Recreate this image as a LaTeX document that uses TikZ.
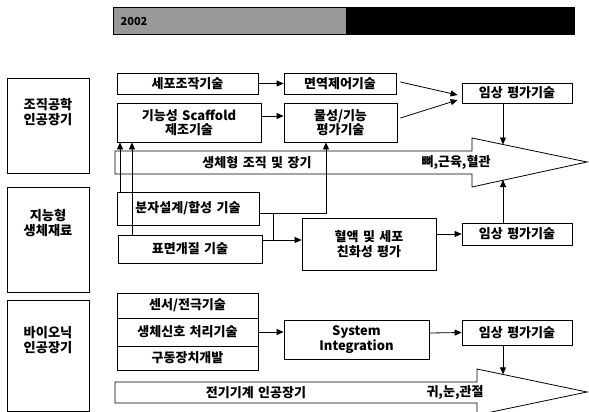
\documentclass[tikz,border=0pt]{standalone}
\usepackage{fontspec}
\IfFontExistsTF{Noto Sans CJK KR Black}
  {\setmainfont{Noto Sans CJK KR Black}[WordSpace=1.5]}
  {\IfFontExistsTF{Noto Sans CJK KR Bold}
     {\setmainfont{Noto Sans CJK KR Bold}[WordSpace=1.5]}
     {\setmainfont{Noto Sans CJK KR}[FakeBold=4, WordSpace=1.5]}}
\usetikzlibrary{arrows.meta}
\begin{document}
\begin{tikzpicture}[x=1pt,y=-1pt,
  box/.style={draw, line width=0.8pt, fill=white, inner sep=0pt, align=center, font=\fontsize{13}{14.5}\selectfont},
  lbl/.style={inner sep=0pt, align=center, font=\fontsize{13}{14.5}\selectfont},
  side/.style={inner sep=0pt, align=center, font=\fontsize{13.2}{15}\selectfont},
  arr/.style={line width=0.8pt, -{Triangle[length=7pt,width=6pt]}},
  ln/.style={line width=0.8pt},
  big/.style={draw, line width=0.8pt, fill=white}
]
\useasboundingbox (0,0) rectangle (589,412);
% title bar
\fill[black!40] (113,7) rectangle (346,34);
\fill[black] (346,7) rectangle (574,34);
\draw[line width=0.6pt] (113,7) rectangle (574,34);
\node[lbl, font=\fontsize{11}{12}\selectfont] (title) at (134,22) {2002};
% left category boxes
\node[box, minimum width=82pt, minimum height=95pt] (L1) at (48,125.5) {};
\node[side] (L1t) at (48,112) {조직공학\\인공장기};
\node[box, minimum width=82pt, minimum height=105pt] (L2) at (48,239.5) {};
\node[side] (L2t) at (48,223) {지능형\\생체재료};
\node[box, minimum width=82pt, minimum height=111pt] (L3) at (48,355.5) {};
\node[side] (L3t) at (48,340) {바이오닉\\인공장기};
% big arrow 1
\draw[big] (115,151) -- (472,151) -- (472,138) -- (587,162) -- (472,187) -- (472,174) -- (115,174) -- cycle;
\node[lbl] (a1l) at (257,162.5) {생체형 조직 및 장기};
\node[lbl] (a1r) at (456,162.5) {뼈,근육,혈관};
\coordinate (h1t) at (503,144.5);
\coordinate (h1b) at (503,180);
% big arrow 2
\draw[big] (115,382) -- (477,382) -- (477,369) -- (587,392) -- (477,415) -- (477,403) -- (115,403) -- cycle;
\node[lbl] (a2l) at (256,392.5) {전기기계 인공장기};
\node[lbl] (a2r) at (455,392.5) {귀,눈,관절};
\coordinate (h2t) at (503,374.4);
% row 1
\node[box, minimum width=141pt, minimum height=21pt] (seipo) at (187.5,83.5) {세포조작기술};
\node[box, minimum width=112pt, minimum height=21pt] (myeon) at (340,83.5) {면역제어기술};
\node[box, minimum width=144pt, minimum height=39pt] (scaf) at (189,122.5) {기능성 Scaffold\\제조기술};
\node[box, minimum width=113pt, minimum height=39pt] (mul) at (340.5,122.5) {물성/기능\\평가기술};
\node[box, minimum width=110pt, minimum height=20pt] (im1) at (517,93) {임상 평가기술};
% row 2
\node[box, minimum width=142pt, minimum height=33pt] (bunja) at (188,208.5) {분자설계/합성 기술};
\node[box, minimum width=144pt, minimum height=28pt] (pyo) at (190,249) {표면개질 기술};
\node[box, minimum width=134pt, minimum height=52pt] (hyeol) at (369,244) {혈액 및 세포\\친화성 평가};
\node[box, minimum width=110pt, minimum height=22pt] (im2) at (517,234) {임상 평가기술};
% row 3
\node[box, minimum width=141pt, minimum height=25pt] (sensor) at (187.5,305.5) {센서/전극기술};
\node[box, minimum width=141pt, minimum height=28pt] (sinho) at (187.5,332) {생체신호 처리기술};
\node[box, minimum width=141pt, minimum height=24pt] (gudong) at (187.5,358) {구동장치개발};
\node[box, minimum width=145pt, minimum height=39pt] (sys) at (356.5,339.5) {System\\Integration};
\node[box, minimum width=110pt, minimum height=25pt] (im3) at (517,332.5) {임상 평가기술};
% connectors row 1
\draw[arr] (seipo.east) -- (myeon.west);
\draw[arr] ([yshift=6.5pt]scaf.east) -- ([yshift=6.5pt]mul.west);
\draw[arr] ([shift={(4pt,1.5pt)}]myeon.east) -- ([shift={(-4pt,-2pt)}]im1.west);
\draw[arr] ([shift={(3pt,4.5pt)}]mul.east) -- ([shift={(-4pt,-7pt)}]im1.west);
\draw[arr] (h1t |- im1.south) -- (h1t);
% connectors row 2
\draw[arr] ([xshift=-68pt]bunja.north) -- ([xshift=-68pt]bunja.north |- scaf.south);
\draw[arr] ([xshift=-58pt]pyo.north) -- ([xshift=-58pt]pyo.north |- scaf.south);
\draw[arr] ([yshift=-4.5pt]bunja.east) -| ([xshift=-14.5pt]mul.south);
\coordinate (j) at (273,240);
\draw[ln] ([yshift=-4.5pt]bunja.east) -| (j);
\draw[ln] ([yshift=9pt]pyo.east) -- (j);
\draw[arr] (j) -- ([yshift=4pt]hyeol.west);
\draw[arr] ([yshift=10pt]hyeol.east) -- (im2.west);
\draw[arr] (h1b |- im2.north) -- (h1b);
% connectors row 3
\draw[arr] (sinho.east) -- (sinho.east -| sys.west);
\draw[arr] ([yshift=6.5pt]sys.east) -- (im3.west);
\draw[arr] (h2t |- im3.south) -- (h2t);
\end{tikzpicture}
\end{document}
